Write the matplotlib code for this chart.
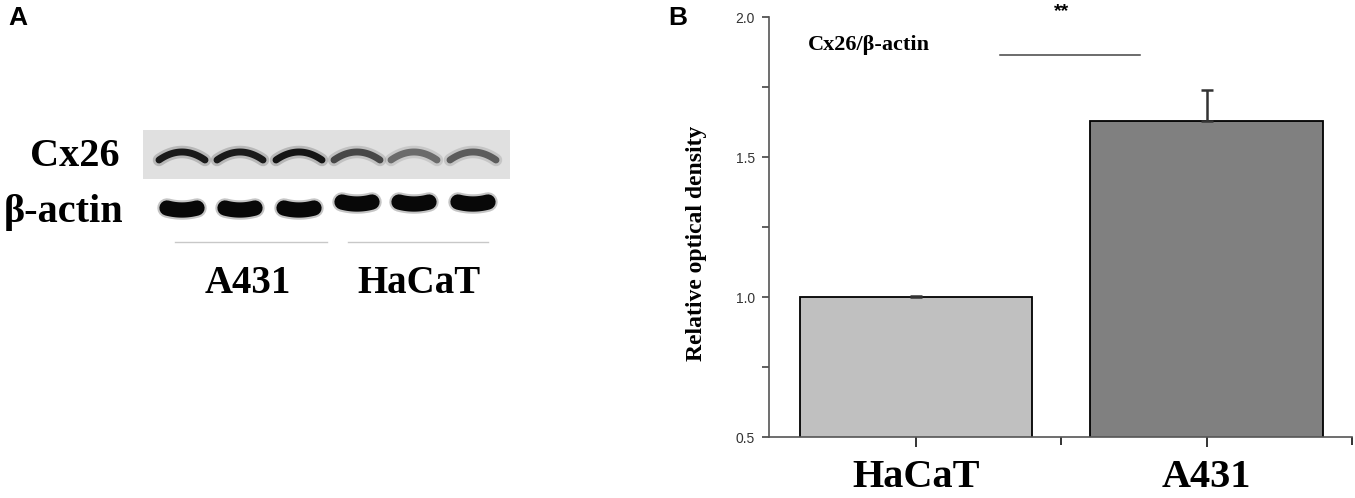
import numpy as np
import matplotlib.pyplot as plt
from matplotlib.ticker import MultipleLocator, FixedLocator

# bar chart values (panel B)
groups = ["HaCaT", "A431"]
density = [1.00, 1.63]
density_err = [0.005, 0.11]
bar_colors = ["#c0c0c0", "#808080"]

# western blot lanes (panel A): 3 x A431, 3 x HaCaT
lane_x = [182, 240, 299, 357, 414, 473]
cx26_shade = [0.10, 0.10, 0.08, 0.28, 0.42, 0.36]
actin_y = [208, 208, 208, 202, 202, 202]
blot_groups = ["A431", "HaCaT"]

SERIF = "Liberation Serif"
SANS = "Liberation Sans"

fig = plt.figure(figsize=(13.55, 4.98), dpi=100)

# ---- panel A: drawn in pixel coordinates
ax0 = fig.add_axes([0, 0, 1, 1])
ax0.set_xlim(0, 1355)
ax0.set_ylim(498, 0)
ax0.axis("off")

# Cx26 strip background
ax0.add_patch(plt.Rectangle((143, 130), 367, 49, color="#e0e0e0", lw=0))

t = np.linspace(-1, 1, 40)
for x, s in zip(lane_x, cx26_shade):
    c = str(s)
    xs = x + 23 * t
    ys = 152 + 8 * t ** 2
    ax0.plot(xs, ys, color=c, lw=9, alpha=0.2, solid_capstyle="round")
    ax0.plot(xs, ys, color=c, lw=5, solid_capstyle="round")

for x, y in zip(lane_x, actin_y):
    xs = x + 15 * t
    ys = y + 2 * (1 - t ** 2)
    ax0.plot(xs, ys, color="0.1", lw=14, alpha=0.25, solid_capstyle="round")
    ax0.plot(xs, ys, color="0.03", lw=11, solid_capstyle="round")

# group underlines
ax0.plot([175, 327], [242, 242], color="#c8c8c8", lw=1)
ax0.plot([348, 488], [242, 242], color="#c8c8c8", lw=1)

ax0.text(120, 156, "Cx26", ha="right", va="center", family=SERIF,
         weight="bold", fontsize=29)
ax0.text(123, 212, "β-actin", ha="right", va="center", family=SERIF,
         weight="bold", fontsize=29)
ax0.text(248, 283, blot_groups[0], ha="center", va="center", family=SERIF,
         weight="bold", fontsize=28)
ax0.text(419, 283, blot_groups[1], ha="center", va="center", family=SERIF,
         weight="bold", fontsize=28)

ax0.text(8, 18, "A", ha="left", va="center", family=SANS, weight="bold", fontsize=19)
ax0.text(668, 18, "B", ha="left", va="center", family=SANS, weight="bold", fontsize=19)

# ---- panel B: bar chart
ax = fig.add_axes([769 / 1355, 61 / 498, 583 / 1355, 420 / 498])
pos = [1, 2]
ax.bar(pos, density, width=0.8, color=bar_colors, edgecolor="black", linewidth=1.3, zorder=2)
ax.errorbar(pos, density, yerr=[[0, 0], density_err], fmt="none", ecolor="#333333",
            elinewidth=1.8, capsize=4, capthick=1.8, zorder=3)

ax.set_xlim(0.495, 2.5)
ax.set_ylim(0.5, 2.0)
for side in ["top", "right"]:
    ax.spines[side].set_visible(False)
for side in ["left", "bottom"]:
    ax.spines[side].set_color("#555555")
    ax.spines[side].set_linewidth(1.2)

ax.set_yticks([0.5, 1.0, 1.5, 2.0])
ax.set_yticklabels(["0.5", "1.0", "1.5", "2.0"], family=SANS, fontsize=10, color="#333333")
ax.yaxis.set_minor_locator(MultipleLocator(0.25))
ax.tick_params(axis="y", which="both", direction="out", length=5, width=1.2,
               color="#444444", pad=5)

ax.set_xticks(pos)
ax.set_xticklabels(groups, family=SERIF, weight="bold", fontsize=29)
ax.xaxis.set_minor_locator(FixedLocator([1.5, 2.5]))
ax.tick_params(axis="x", which="major", direction="out", length=7, width=1.4,
               color="#333333", pad=9)
ax.tick_params(axis="x", which="minor", direction="out", length=6, width=1.4, color="#333333")

ax.set_ylabel("Relative optical density", family=SERIF, weight="bold", fontsize=17)
ax.yaxis.set_label_coords(-0.107, 0.46)

ax.text(0.63, 1.9, "Cx26/β-actin", ha="left", va="center", family=SERIF,
        weight="bold", fontsize=16)
ax.plot([1.29, 1.77], [1.865, 1.865], color="#444444", lw=1.1, clip_on=False)
ax.text(1.5, 2.02, "**", ha="center", va="center", family=SANS, weight="bold",
        fontsize=14, clip_on=False)

fig.savefig("out.png", dpi=100)
